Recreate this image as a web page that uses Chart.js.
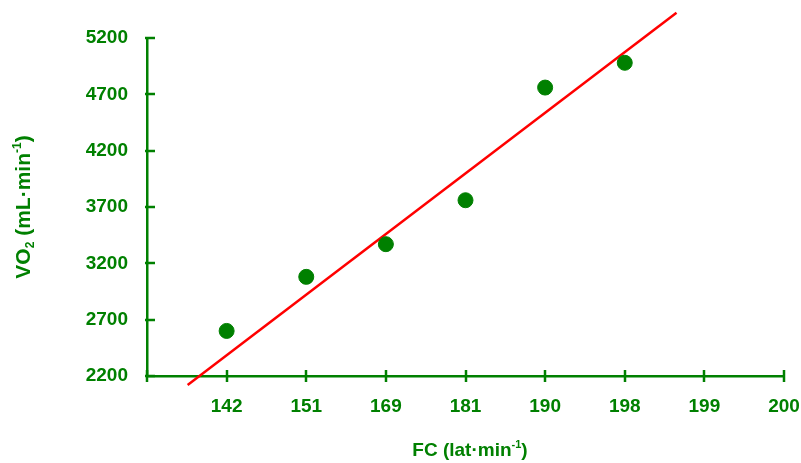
<!DOCTYPE html>
<html>
<head>
<meta charset="utf-8">
<script src="https://cdn.jsdelivr.net/npm/chart.js@4/dist/chart.umd.min.js"></script>
<style>
  html, body { margin: 0; padding: 0; background: #fff; }
  #wrap { width: 801px; height: 463px; }
</style>
</head>
<body>
<div id="wrap"><canvas id="chart1"></canvas></div>
<script>
// FC categories (equally spaced on the axis, first slot is empty)
const fcLabels = ['', '142', '151', '169', '181', '190', '198', '199', '200'];
const fcIndex = [1, 2, 3, 4, 5, 6];
const vo2Values = [2600, 3080, 3370, 3760, 4760, 4980];
// trend line end points (x in category slots, y in mL/min)
const trendX = [0.51, 6.65];
const trendY = [2120, 5425];
const yTicks = [2200, 2700, 3200, 3700, 4200, 4700, 5200];

const GREEN = '#008000';
const RED = '#ff0000';
const FONT = '"Liberation Sans", Arial, sans-serif';

// axis ticks that cross the axis line + titles with sub/superscripts
const axisDecor = {
    id: 'axisDecor',
    afterDraw(chart) {
        const { ctx, scales: { x, y }, chartArea } = chart;
        ctx.save();
        ctx.strokeStyle = GREEN;
        ctx.lineWidth = 2.5;
        yTicks.forEach(v => {
            const py = Math.round(y.getPixelForValue(v));
            ctx.beginPath();
            ctx.moveTo(chartArea.left - 2, py);
            ctx.lineTo(chartArea.left + 8, py);
            ctx.stroke();
        });
        for (let i = 0; i < fcLabels.length; i++) {
            const px = Math.round(x.getPixelForValue(i));
            ctx.beginPath();
            ctx.moveTo(px, chartArea.bottom - 6);
            ctx.lineTo(px, chartArea.bottom + 6);
            ctx.stroke();
        }

        const drawRich = (parts, cx, cy) => {
            let total = 0;
            parts.forEach(p => {
                ctx.font = 'bold ' + p.size + 'px ' + FONT;
                p.w = ctx.measureText(p.t).width;
                total += p.w;
            });
            let cur = cx - total / 2;
            ctx.textBaseline = 'alphabetic';
            ctx.textAlign = 'left';
            parts.forEach(p => {
                ctx.font = 'bold ' + p.size + 'px ' + FONT;
                ctx.fillText(p.t, cur, cy + (p.dy || 0));
                cur += p.w;
            });
        };
        ctx.fillStyle = GREEN;

        // x title
        drawRich([
            { t: 'FC (lat·min', size: 19 },
            { t: '-1', size: 11, dy: -8 },
            { t: ')', size: 19 }
        ], 470, 456);

        // y title (rotated)
        ctx.save();
        ctx.translate(30, 207);
        ctx.rotate(-Math.PI / 2);
        drawRich([
            { t: 'VO', size: 21 },
            { t: '2', size: 12, dy: 4 },
            { t: ' (mL·min', size: 21 },
            { t: '-1', size: 12, dy: -9 },
            { t: ')', size: 21 }
        ], 0, 0);
        ctx.restore();
        ctx.restore();
    }
};

new Chart('chart1', {
    type: 'scatter',
    data: {
        datasets: [
            {
                type: 'line',
                data: trendX.map((v, i) => ({ x: v, y: trendY[i] })),
                borderColor: RED,
                borderWidth: 2.5,
                pointRadius: 0,
                fill: false,
                clip: false,
                order: 2
            },
            {
                data: fcIndex.map((v, i) => ({ x: v, y: vo2Values[i] })),
                backgroundColor: GREEN,
                borderColor: GREEN,
                pointRadius: 7.5,
                order: 1
            }
        ]
    },
    plugins: [axisDecor],
    options: {
        responsive: true,
        maintainAspectRatio: false,
        animation: false,
        layout: { padding: { top: 38, right: 17, bottom: 0, left: 0 } },
        plugins: {
            legend: { display: false },
            tooltip: { enabled: false }
        },
        scales: {
            x: {
                type: 'linear',
                min: 0,
                max: 8,
                afterFit: (s) => { s.height = 87; s.paddingRight = 0; s.paddingLeft = 0; },
                afterBuildTicks: (s) => { s.ticks = fcLabels.map((_, i) => ({ value: i })); },
                ticks: {
                    color: GREEN,
                    font: { family: FONT, size: 19, weight: 'bold' },
                    padding: 19,
                    maxRotation: 0,
                    autoSkip: false,
                    callback: (v) => fcLabels[v]
                },
                grid: { display: false, drawTicks: false },
                border: { display: true, color: GREEN, width: 2.5 }
            },
            y: {
                min: 2200,
                max: 5200,
                afterFit: (s) => { s.width = 147; s.paddingTop = 0; s.paddingBottom = 0; },
                afterBuildTicks: (s) => { s.ticks = yTicks.map(v => ({ value: v })); },
                ticks: {
                    color: GREEN,
                    font: { family: FONT, size: 19, weight: 'bold' },
                    padding: 19,
                    callback: (v) => v
                },
                grid: { display: false, drawTicks: false },
                border: { display: true, color: GREEN, width: 2.5 }
            }
        }
    }
});
</script>
</body>
</html>
